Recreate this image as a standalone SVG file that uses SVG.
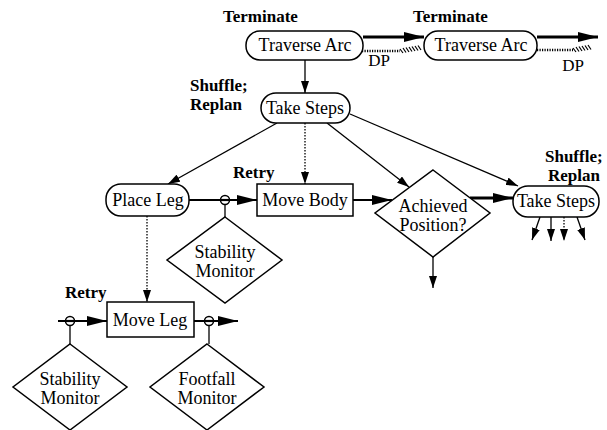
<svg xmlns="http://www.w3.org/2000/svg" width="607" height="430" viewBox="0 0 607 430">
<style>
.box{fill:#fff;stroke:#000;stroke-width:1.5}
.t{font-family:"Liberation Serif",serif;font-size:18px;text-anchor:middle;fill:#000}
.b{font-family:"Liberation Serif",serif;font-size:17px;font-weight:bold;fill:#000}
.ln{fill:none;stroke:#000;stroke-width:1.3}
.dot{fill:none;stroke:#000;stroke-width:1.3;stroke-dasharray:1.5 1.5}
.thick{fill:none;stroke:#000;stroke-width:3}
.mid{fill:none;stroke:#000;stroke-width:2.2}
.dp{fill:none;stroke:#000;stroke-width:2.5;stroke-dasharray:1.2 1.3}
.hatch{fill:none;stroke:#000;stroke-width:1.2}
.ring{fill:#fff;stroke:#000;stroke-width:1.5}
</style>
<defs>
<marker id="a" viewBox="0 0 12 8" refX="12" refY="4" markerWidth="12" markerHeight="8" markerUnits="userSpaceOnUse" orient="auto"><path d="M0,0 L12,4 L0,8 z" fill="#000"/></marker>
<marker id="A" viewBox="0 0 20 10" refX="20" refY="5" markerWidth="20" markerHeight="10" markerUnits="userSpaceOnUse" orient="auto"><path d="M0,0 L20,5 L0,10 z" fill="#000"/></marker>
</defs>

<g id="labels">
<text class="b" x="223" y="22">Terminate</text>
<text class="b" x="413" y="22">Terminate</text>
<text class="b" x="190" y="91">Shuffle;</text>
<text class="b" x="190" y="110">Replan</text>
<text class="b" x="233" y="178">Retry</text>
<text class="b" x="545" y="162">Shuffle;</text>
<text class="b" x="548" y="181">Replan</text>
<text class="b" x="65" y="298">Retry</text>
<text class="t" x="379" y="66" style="font-size:17px">DP</text>
<text class="t" x="573" y="71" style="font-size:17px">DP</text>
</g>

<g id="connectors">
<line class="thick" x1="363" y1="37" x2="424" y2="37" marker-end="url(#A)"/>
<line class="thick" x1="537" y1="37" x2="598" y2="37" marker-end="url(#A)"/>
<line class="dp" x1="362" y1="51" x2="400" y2="51"/>
<path class="hatch" d="M400,49 l3,4 M403,48 l3,4.5 M406,47.5 l3,4.5 M409,47 l3,4.5 M412,46.5 l3,4.5 M415,46 l3,4.5 M418,45.5 l3,4.5"/>
<line class="dp" x1="537" y1="50" x2="573" y2="50"/>
<path class="hatch" d="M573,48 l3,4 M576,47 l3,4.5 M579,46.5 l3,4.5 M582,46 l3,4.5 M585,45.5 l3,4.5 M588,45 l3,4.5"/>
<line class="ln" x1="305" y1="60" x2="305" y2="93" marker-end="url(#a)"/>
<line class="ln" x1="277" y1="123" x2="168" y2="184" marker-end="url(#a)"/>
<line class="dot" x1="305" y1="123" x2="305" y2="184" marker-end="url(#a)"/>
<line class="ln" x1="327" y1="123" x2="409" y2="187" marker-end="url(#a)"/>
<line class="ln" x1="350" y1="114" x2="518" y2="186" marker-end="url(#a)"/>
<line class="mid" x1="189" y1="200" x2="257" y2="200" marker-end="url(#A)"/>
<line class="ln" x1="225" y1="204" x2="225" y2="217"/>
<circle class="ring" cx="225" cy="200" r="4.5"/>
<line class="mid" x1="220" y1="200" x2="230" y2="200"/>
<line class="mid" x1="353" y1="200" x2="392" y2="200" marker-end="url(#A)"/>
<line class="thick" x1="470" y1="198" x2="513" y2="198" marker-end="url(#A)"/>
<line class="ln" x1="540" y1="217" x2="532" y2="240" marker-end="url(#a)"/>
<line class="ln" x1="551" y1="217" x2="551" y2="241" marker-end="url(#a)"/>
<line class="dot" x1="564" y1="217" x2="564" y2="241" marker-end="url(#a)"/>
<line class="ln" x1="577" y1="217" x2="585" y2="240" marker-end="url(#a)"/>
<line class="ln" x1="433" y1="257" x2="433" y2="288" marker-end="url(#a)"/>
<line class="dot" x1="147" y1="216" x2="147" y2="302" marker-end="url(#a)"/>
<line class="mid" x1="58" y1="321" x2="107" y2="321" marker-end="url(#A)"/>
<line class="ln" x1="70" y1="325" x2="70" y2="344"/>
<circle class="ring" cx="70" cy="321" r="4.5"/>
<line class="mid" x1="65" y1="321" x2="75" y2="321"/>
<line class="mid" x1="194" y1="321" x2="238" y2="321" marker-end="url(#A)"/>
<line class="ln" x1="209" y1="325" x2="209" y2="344"/>
<circle class="ring" cx="209" cy="321" r="4.5"/>
<line class="mid" x1="204" y1="321" x2="214" y2="321"/>
</g>

<g id="traverse-arc-1">
<rect class="box" x="246" y="31" width="117" height="29" rx="14"/>
<text class="t" x="305" y="51">Traverse Arc</text>
</g>
<g id="traverse-arc-2">
<rect class="box" x="424" y="31" width="113" height="29" rx="14"/>
<text class="t" x="481" y="51">Traverse Arc</text>
</g>
<g id="take-steps-1">
<rect class="box" x="261" y="93" width="89" height="30" rx="15"/>
<text class="t" x="305" y="114">Take Steps</text>
</g>
<g id="place-leg">
<rect class="box" x="106" y="184" width="83" height="32" rx="15"/>
<text class="t" x="148" y="206">Place Leg</text>
</g>
<g id="move-body">
<rect class="box" x="257" y="184" width="96" height="32"/>
<text class="t" x="305" y="206">Move Body</text>
</g>
<g id="stability-monitor-1">
<polygon class="box" points="225,217 282,260 225,303 167,260"/>
<text class="t" x="225" y="258">Stability</text>
<text class="t" x="225" y="277">Monitor</text>
</g>
<g id="achieved-position">
<polygon class="box" points="433,170 490,213 433,257 375,213"/>
<text class="t" x="433" y="212">Achieved</text>
<text class="t" x="433" y="231">Position?</text>
</g>
<g id="take-steps-2">
<rect class="box" x="513" y="186" width="86" height="31" rx="15"/>
<text class="t" x="556" y="207">Take Steps</text>
</g>
<g id="move-leg">
<rect class="box" x="107" y="302" width="87" height="35"/>
<text class="t" x="150" y="326">Move Leg</text>
</g>
<g id="stability-monitor-2">
<polygon class="box" points="70,344 127,387 70,430 13,387"/>
<text class="t" x="70" y="385">Stability</text>
<text class="t" x="70" y="404">Monitor</text>
</g>
<g id="footfall-monitor">
<polygon class="box" points="207,344 264,387 207,430 150,387"/>
<text class="t" x="207" y="385">Footfall</text>
<text class="t" x="207" y="404">Monitor</text>
</g>
</svg>
